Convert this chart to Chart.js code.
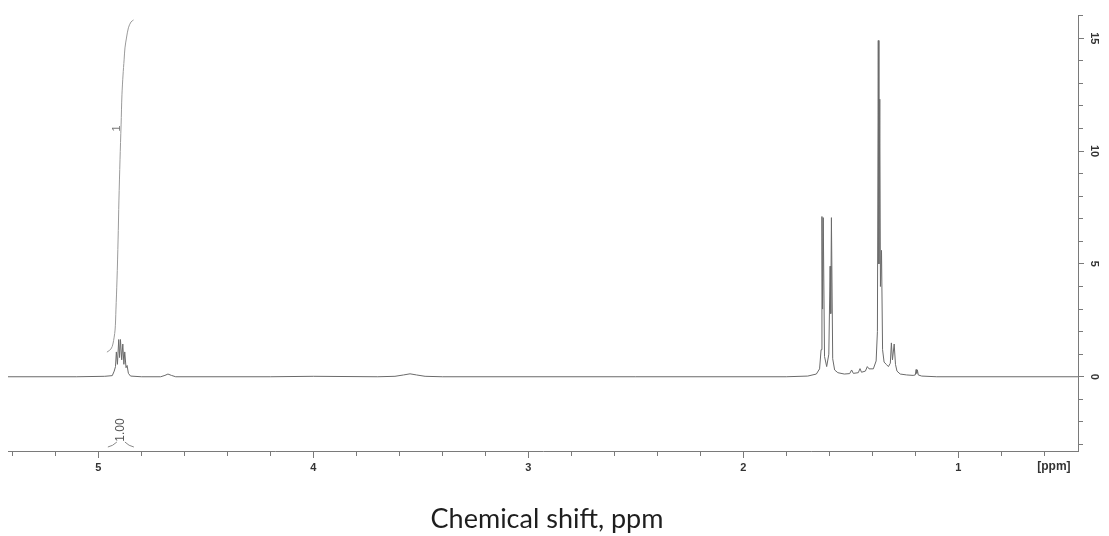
<!DOCTYPE html>
<html>
<head>
<meta charset="utf-8">
<script src="https://cdn.jsdelivr.net/npm/chart.js@4"></script>
<style>
  html, body { margin: 0; padding: 0; background: #fff; }
  #wrap { width: 1109px; height: 536px; position: relative; }
</style>
</head>
<body>
<div id="wrap"><canvas id="nmrChart"></canvas></div>
<script>
// 1H spectrum trace: chemical shift (ppm) and intensity
var shiftPpm = [
  5.42, 5.10, 4.97, 4.935, 4.926, 4.920, 4.916, 4.911, 4.905, 4.901, 4.897, 4.891,
  4.886, 4.881, 4.877, 4.871, 4.866, 4.860, 4.850, 4.80, 4.71, 4.69, 4.676, 4.66,
  4.64, 4.20, 4.00, 3.70, 3.62, 3.58, 3.55, 3.52, 3.48, 3.40, 2.50, 1.80,
  1.70, 1.660, 1.645, 1.638, 1.634, 1.631, 1.628, 1.622, 1.612, 1.602, 1.596, 1.593,
  1.590, 1.584, 1.575, 1.560, 1.530, 1.505, 1.496, 1.488, 1.465, 1.457, 1.450, 1.432,
  1.423, 1.415, 1.395, 1.382, 1.376, 1.372, 1.369, 1.365, 1.362, 1.357, 1.352, 1.345,
  1.335, 1.325, 1.316, 1.311, 1.306, 1.298, 1.292, 1.285, 1.270, 1.240, 1.210, 1.200,
  1.196, 1.193, 1.190, 1.186, 1.170, 1.100, 0.443
];
var intensity = [
  0.00, 0.00, 0.02, 0.05, 0.25, 0.45, 1.10, 0.55, 1.65, 0.85, 1.65, 0.75,
  1.45, 0.55, 1.10, 0.40, 0.50, 0.15, 0.03, 0.00, 0.00, 0.06, 0.12, 0.06,
  0.00, 0.00, 0.02, 0.00, 0.02, 0.08, 0.13, 0.08, 0.02, 0.00, 0.00, 0.00,
  0.03, 0.12, 0.35, 1.20, 7.10, 3.00, 7.05, 0.90, 0.45, 1.00, 4.90, 2.80,
  7.05, 0.80, 0.30, 0.18, 0.12, 0.14, 0.30, 0.15, 0.18, 0.36, 0.20, 0.25,
  0.45, 0.35, 0.35, 0.70, 2.00, 14.90, 5.00, 12.30, 4.00, 5.60, 1.20, 0.65,
  0.55, 0.45, 0.60, 1.50, 0.75, 1.45, 0.55, 0.25, 0.12, 0.08, 0.06, 0.08,
  0.32, 0.15, 0.30, 0.08, 0.03, 0.00, 0.00
];

// integral curve over the 4.9 ppm multiplet
var integralPpm = [
  4.960, 4.941, 4.932, 4.922, 4.918, 4.913, 4.908, 4.904, 4.899,
  4.894, 4.890, 4.885, 4.880, 4.876, 4.869, 4.860, 4.848, 4.836
];
var integralValue = [
  1.09, 1.23, 1.45, 2.07, 2.96, 4.29, 6.06, 7.83, 9.61,
  11.16, 12.49, 13.37, 14.04, 14.57, 15.01, 15.46, 15.72, 15.81
];

var xMajorTicks = [5, 4, 3, 2, 1];
var yMajorTicks = [0, 5, 10, 15];
var integralLabel = '1';
var integralAreaLabel = '1.00';

var spectrumPoints = shiftPpm.map(function (x, i) { return { x: x, y: intensity[i] }; });
var integralPoints = integralPpm.map(function (x, i) { return { x: x, y: integralValue[i] }; });

var axisColor = '#7a7a7a';
var labelFont = { family: 'Liberation Sans', size: 11, weight: 'bold' };

function minorDash(ctx, majors) {
  var v = ctx.tick ? ctx.tick.value : null;
  return (v !== null && majors.indexOf(Math.round(v * 1000) / 1000) >= 0) ? [] : [4, 20];
}

// extra text: unit label, axis title and integral annotations
var textPlugin = {
  id: 'nmrText',
  afterDraw: function (chart) {
    var c = chart.ctx;
    var xs = chart.scales.x, ys = chart.scales.y;
    c.save();

    c.fillStyle = '#333';
    c.font = 'bold 12px "Liberation Sans"';
    c.textAlign = 'center';
    c.textBaseline = 'top';
    c.fillText('[ppm]', xs.getPixelForValue(0.555), 461);

    c.fillStyle = '#1e1e1e';
    c.font = '27px Lato';
    c.textBaseline = 'alphabetic';
    c.fillText('Chemical shift, ppm', 547, 528);

    // integral value next to the curve
    c.fillStyle = '#777';
    c.font = '11px "Liberation Sans"';
    c.translate(xs.getPixelForValue(4.912), ys.getPixelForValue(11));
    c.rotate(-Math.PI / 2);
    c.textBaseline = 'middle';
    c.fillText(integralLabel, 0, 0);
    c.restore();

    // normalised integral under the axis area
    c.save();
    var cx = xs.getPixelForValue(4.895);
    c.fillStyle = '#555';
    c.font = '12px "Liberation Sans"';
    c.translate(cx, 430);
    c.rotate(-Math.PI / 2);
    c.textAlign = 'center';
    c.textBaseline = 'middle';
    c.fillText(integralAreaLabel, 0, 0);
    c.restore();

    c.save();
    c.strokeStyle = '#888';
    c.lineWidth = 1;
    c.beginPath();
    c.moveTo(cx - 4, 442); c.quadraticCurveTo(cx - 8, 446, cx - 13, 447);
    c.moveTo(cx + 4, 442); c.quadraticCurveTo(cx + 8, 446, cx + 13, 447);
    c.stroke();
    c.restore();
  }
};

var ctx = document.getElementById('nmrChart').getContext('2d');
var nmrChart = new Chart(ctx, {
  type: 'scatter',
  data: {
    datasets: [{
      data: spectrumPoints,
      showLine: true,
      borderColor: '#6a6a6a',
      borderWidth: 1,
      pointRadius: 0,
      tension: 0
    }, {
      data: integralPoints,
      showLine: true,
      borderColor: '#9a9a9a',
      borderWidth: 1,
      pointRadius: 0,
      tension: 0.3
    }]
  },
  options: {
    responsive: true,
    maintainAspectRatio: false,
    animation: false,
    layout: { padding: { left: 8, top: 15, right: 0, bottom: 0 } },
    plugins: { legend: { display: false }, tooltip: { enabled: false } },
    scales: {
      x: {
        type: 'linear',
        position: 'bottom',
        reverse: true,
        min: 0.443,
        max: 5.42,
        afterFit: function (s) { s.height = 85; },
        border: { color: axisColor, width: 1 },
        grid: {
          drawOnChartArea: false,
          tickLength: 7,
          tickColor: axisColor,
          tickBorderDash: function (c) { return minorDash(c, xMajorTicks); }
        },
        ticks: {
          stepSize: 0.2,
          includeBounds: false,
          autoSkip: false,
          maxRotation: 0,
          padding: 3,
          color: '#333',
          font: labelFont,
          callback: function (v) {
            var r = Math.round(v * 1000) / 1000;
            return xMajorTicks.indexOf(r) >= 0 ? String(r) : '';
          }
        }
      },
      y: {
        type: 'linear',
        position: 'right',
        min: -3.29,
        max: 16.03,
        afterFit: function (s) { s.width = 31; },
        border: { color: axisColor, width: 1 },
        grid: {
          drawOnChartArea: false,
          tickLength: 6,
          tickColor: axisColor,
          tickBorderDash: function (c) { return minorDash(c, yMajorTicks); }
        },
        ticks: {
          stepSize: 1,
          includeBounds: false,
          autoSkip: false,
          minRotation: -90,
          maxRotation: -90,
          crossAlign: 'center',
          padding: 4,
          color: '#333',
          font: labelFont,
          callback: function (v) {
            var r = Math.round(v * 1000) / 1000;
            return yMajorTicks.indexOf(r) >= 0 ? String(r) : '';
          }
        }
      }
    }
  },
  plugins: [textPlugin]
});
</script>
</body>
</html>
